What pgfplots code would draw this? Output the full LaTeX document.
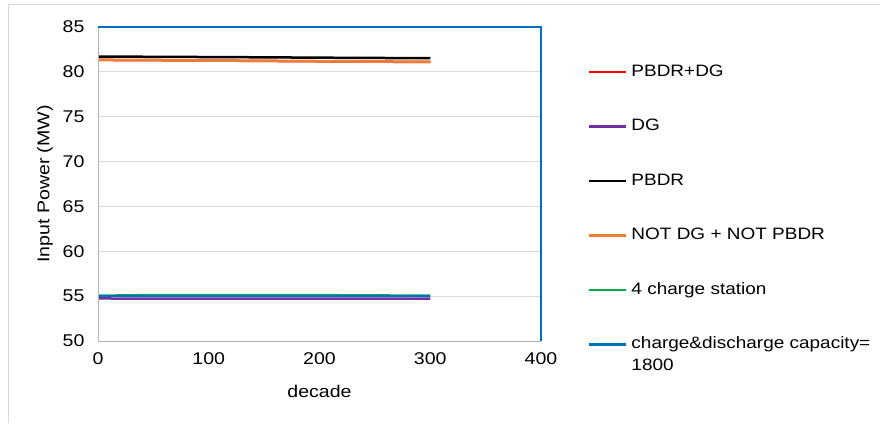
\documentclass[border=0pt]{standalone}
\usepackage{fontspec}
\setmainfont{Liberation Sans}[FakeStretch=1.15]
\usepackage{pgfplots}
\pgfplotsset{compat=1.18}
\definecolor{cRed}{HTML}{FF0000}
\definecolor{cPurple}{HTML}{7030A0}
\definecolor{cOrange}{HTML}{ED7D31}
\definecolor{cGreen}{HTML}{00B050}
\definecolor{cBlue}{HTML}{0070C0}
\begin{document}
\begin{tikzpicture}[x=1bp,y=1bp]
\path[use as bounding box] (0,0) rectangle (880,423);
\draw[black!15, line width=1bp] (8,0) -- (8,418) -- (880,418);
\begin{axis}[
  name=ax,
  at={(98bp,82bp)}, anchor=south west,
  scale only axis, width=443bp, height=314bp,
  xmin=0, xmax=400, ymin=50, ymax=85,
  xtick={0,100,200,300,400}, ytick={50,55,60,65,70,75,80,85},
  major tick length=0pt,
  ymajorgrids, grid style={draw=black!15, line width=0.8bp},
  axis line style={draw=none},
  tick label style={font=\fontsize{17bp}{20bp}\selectfont},
  /pgf/number format/assume math mode=true,
  xticklabel style={yshift=-8bp},
  yticklabel style={xshift=-10bp},
  xlabel={decade}, ylabel={Input Power (MW)},
  label style={font=\fontsize{17bp}{20bp}\selectfont},
  x label style={at={(axis description cs:0.5,-0.162)}, anchor=center},
  y label style={at={(axis description cs:-0.1196,0.5)}, anchor=center},
  legend image code/.code={\draw[#1] (0bp,0bp) -- (37bp,0bp);},
  legend cell align=left,
  legend style={draw=none, fill=none, inner sep=0pt, outer sep=0pt,
    at={(axis description cs:1.106,0.882)}, anchor=north west,
    font=\fontsize{16.5bp}{22bp}\selectfont,
    row sep=39bp, column sep=0pt,
    nodes={inner sep=0pt, text height=12bp, text depth=3.5bp},
    /tikz/every odd column/.append style={column sep=4bp}},
  every axis plot/.append style={line width=2.5bp},
]
\addplot[cRed] coordinates {(0,81.33) (50,81.30) (100,81.26) (150,81.22) (200,81.18) (250,81.14) (300,81.10)};
\addlegendentry{PBDR+DG}
\addplot[cPurple] coordinates {(0,54.74) (50,54.73) (100,54.72) (150,54.72) (200,54.72) (250,54.71) (300,54.71)};
\addlegendentry{DG}
\addplot[black] coordinates {(0,81.70) (50,81.68) (100,81.65) (150,81.62) (200,81.58) (250,81.55) (300,81.52)};
\addlegendentry{PBDR}
\addplot[cOrange] coordinates {(0,81.33) (50,81.30) (100,81.26) (150,81.22) (200,81.18) (250,81.14) (300,81.10)};
\addlegendentry{NOT DG + NOT PBDR}
\addplot[cGreen] coordinates {(0,55.05) (50,55.12) (100,55.12) (150,55.11) (200,55.11) (250,55.08) (300,55.05)};
\addlegendentry{4 charge station}
\addplot[cBlue] coordinates {(0,55.02) (50,55.02) (100,55.02) (150,55.02) (200,55.02) (250,55.02) (300,55.02)};
\addlegendentry{\vtop{\hbox{charge\&discharge capacity=}\hbox{1800}}}
\end{axis}
\draw[black!30, line width=1bp] (ax.north west) -- (ax.south west) -- (ax.south east);
\draw[cBlue, line width=1.5bp] (ax.north west) -- (ax.north east) -- (ax.south east);
\end{tikzpicture}
\end{document}
